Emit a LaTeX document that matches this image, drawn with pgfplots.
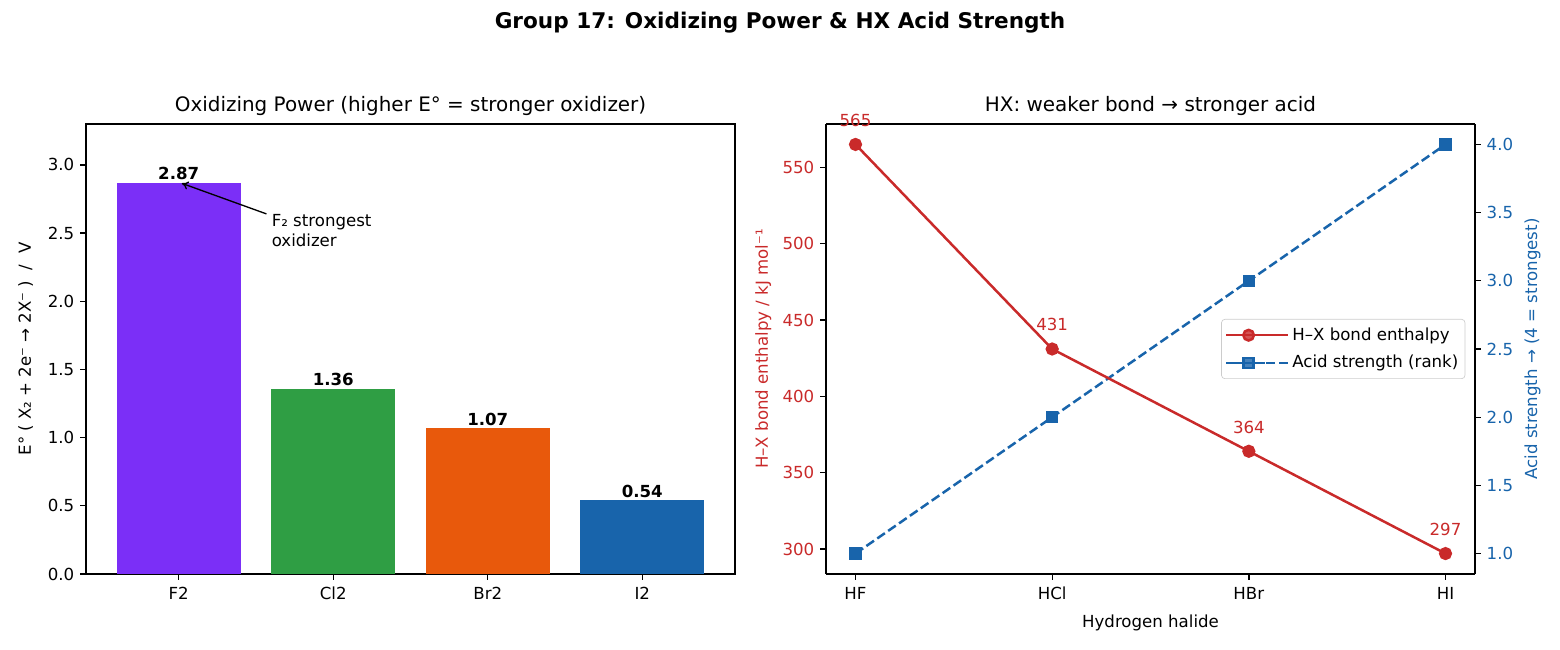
\documentclass[border=0pt]{standalone}
\usepackage{fontspec}
\setmainfont{DejaVu Sans}
\usepackage{pgfplots}
\pgfplotsset{compat=1.18}
\usetikzlibrary{arrows.meta}
\definecolor{cpur}{HTML}{7B2FF7}
\definecolor{cgrn}{HTML}{2F9E44}
\definecolor{corg}{HTML}{E8590C}
\definecolor{cblu}{HTML}{1864AB}
\definecolor{cred}{HTML}{C92A2A}
\pgfplotsset{
  base/.style={
    scale only axis,
    width=389.4bp, height=270bp,
    /pgf/number format/assume math mode=true,
    tick label style={font=\fontsize{10}{12}\selectfont},
    label style={font=\fontsize{10}{12}\selectfont},
    title style={font=\fontsize{12}{14}\selectfont, yshift=-4.5bp},
    tick align=outside,
    major tick length=3.5bp,
    every tick/.style={black, line width=0.8bp},
    axis line style={line width=0.8bp},
    xtick pos=bottom,
  },
}
\begin{document}
\begin{tikzpicture}
\path[use as bounding box] (0,0) rectangle (936bp,390bp);
\node[font=\bfseries\fontsize{13}{15}\selectfont] at (468bp,376.4bp) {Group 17: Oxidizing Power \& HX Acid Strength};

% Left: bar chart
\begin{axis}[base,
  at={(51.6bp,45.6bp)}, anchor=south west,
  xmin=-0.6, xmax=3.6, ymin=0, ymax=3.3,
  xtick={0,1,2,3}, xticklabels={F2,Cl2,Br2,I2},
  xticklabel style={yshift=-1bp},
  ytick={0,0.5,...,3.0},
  yticklabel style={/pgf/number format/.cd, fixed, fixed zerofill, precision=1},
  ytick pos=left,
  ylabel={E° ( X₂ + 2e⁻ → 2X⁻ )\ \ /\ \ V},
  ylabel style={yshift=2bp},
  title={Oxidizing Power (higher E° = stronger oxidizer)},
  clip=false,
  every node near coord/.style={font=\bfseries\fontsize{10}{12}\selectfont, anchor=south, inner sep=1.5bp, text=black},
]
\addplot[ybar, bar width=0.8, bar shift=0pt, fill=cpur, draw=none, point meta=explicit symbolic, nodes near coords] coordinates {(0,2.87) [2.87]};
\addplot[ybar, bar width=0.8, bar shift=0pt, fill=cgrn, draw=none, point meta=explicit symbolic, nodes near coords] coordinates {(1,1.36) [1.36]};
\addplot[ybar, bar width=0.8, bar shift=0pt, fill=corg, draw=none, point meta=explicit symbolic, nodes near coords] coordinates {(2,1.07) [1.07]};
\addplot[ybar, bar width=0.8, bar shift=0pt, fill=cblu, draw=none, point meta=explicit symbolic, nodes near coords] coordinates {(3,0.54) [0.54]};
\node[anchor=west, align=left, inner sep=0pt, font=\fontsize{10}{12}\selectfont] (ann) at (axis cs:0.6,2.52) {F₂ strongest\\oxidizer};
\draw[-{To[length=4bp,width=5bp]}, line width=0.8bp] ([xshift=-3bp]ann.north west) -- (axis cs:0.02,2.865);
\end{axis}

% Right: twin axes
\begin{axis}[base,
  at={(495.6bp,45.6bp)}, anchor=south west,
  xmin=-0.15, xmax=3.15, ymin=0.85, ymax=4.15,
  axis x line=none, axis y line*=right,
  ytick={1.0,1.5,...,4.0},
  yticklabel style={text=cblu, /pgf/number format/.cd, fixed, fixed zerofill, precision=1},
  ylabel={\textcolor{cblu}{Acid strength → (4 = strongest)}},
  ylabel near ticks,
]
\addplot[cblu, line width=1.5bp, dash pattern=on 5.55bp off 2.4bp, mark=square*, mark size=3bp, mark options={solid}] coordinates {(0,1) (1,2) (2,3) (3,4)};
\end{axis}

\begin{axis}[base,
  at={(495.6bp,45.6bp)}, anchor=south west,
  xmin=-0.15, xmax=3.15, ymin=283.6, ymax=578.4,
  axis y line*=left,
  xtick={0,1,2,3}, xticklabels={HF,HCl,HBr,HI},
  xticklabel style={yshift=-1bp},
  ytick={300,350,...,550},
  yticklabel style={text=cred},
  ylabel={\textcolor{cred}{H–X bond enthalpy / kJ mol⁻¹}},
  xlabel={Hydrogen halide},
  xlabel style={yshift=-2bp},
  title={HX: weaker bond → stronger acid},
  clip=false,
  legend style={at={(0.985,0.5)}, anchor=east, draw=black!20, rounded corners=2bp, fill=white, fill opacity=0.8, text opacity=1, font=\fontsize{10}{12}\selectfont, inner xsep=2bp, inner ysep=3bp, row sep=3.5bp},
  legend cell align=left,
  legend image code/.code={\path (-2bp,0bp) -- (35bp,0bp); \draw[mark repeat=2,mark phase=2,line width=1.5bp,#1] plot coordinates {(0bp,0bp) (11.5bp,0bp) (23bp,0bp)};},
  every node near coord/.style={font=\fontsize{10}{12}\selectfont, anchor=south, inner sep=0pt, yshift=10bp, text=cred},
]
\addplot[cred, line width=1.5bp, mark=*, mark size=3.2bp, point meta=explicit symbolic, nodes near coords] coordinates {(0,565) [565] (1,431) [431] (2,364) [364] (3,297) [297]};
\addlegendentry{H–X bond enthalpy}
\addlegendimage{cblu, line width=1.5bp, dash pattern=on 5.55bp off 2.4bp, mark=square*, mark size=3bp, mark options={solid}}
\addlegendentry{Acid strength (rank)}
\end{axis}
\end{tikzpicture}
\end{document}
